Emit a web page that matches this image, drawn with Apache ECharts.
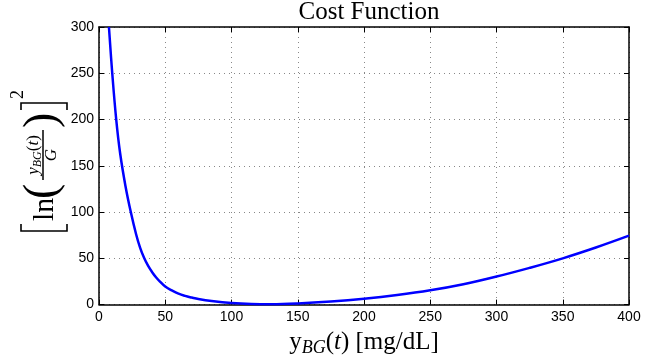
<!DOCTYPE html>
<html>
<head>
<meta charset="utf-8">
<script src="https://cdn.jsdelivr.net/npm/echarts@6/dist/echarts.min.js"></script>
<style>
  html, body { margin: 0; padding: 0; background: #fff; }
  #chart { width: 663px; height: 362px; }
</style>
</head>
<body>
<div id="chart"></div>
<script>
// values
var glucose = [7.5, 10, 13, 16, 20, 24, 28, 31, 34, 37, 40, 43, 46, 50, 55, 60, 65, 70, 75, 85, 100, 115, 130, 150, 175, 200, 225, 250, 275, 300, 325, 350, 375, 400];
var cost = [300, 250, 200, 163, 128, 100, 76, 61.5, 50.5, 42, 35.3, 29.6, 24.9, 19.5, 15.3, 11.8, 9.4, 7.6, 6, 3.8, 1.6, 0.6, 0.4, 1.2, 3.3, 6.3, 10.3, 15.4, 22, 30.3, 39.7, 50, 61.7, 74.5];
var xTicks = [0, 50, 100, 150, 200, 250, 300, 350, 400];
var yTicks = [0, 50, 100, 150, 200, 250, 300];

var serif = '"Liberation Serif", "DejaVu Serif", serif';
var sans = '"Liberation Sans", Arial, sans-serif';

var chart = echarts.init(document.getElementById('chart'), null, { renderer: 'canvas' });

var gridLine = { show: true, lineStyle: { color: '#888', width: 1, type: [1, 4] } };
var tickStyle = { show: true, inside: true, length: 5, lineStyle: { color: '#000', width: 1 } };
var frame = { show: true, onZero: false, lineStyle: { color: '#000', width: 1.5 } };

var option = {
  animation: false,
  backgroundColor: '#fff',
  title: {
    text: 'Cost Function',
    left: 364,
    textAlign: 'center',
    top: -5,
    textStyle: { fontFamily: serif, fontSize: 25, fontWeight: 'normal', color: '#000' }
  },
  grid: { left: 99, right: 34, top: 27, bottom: 53 },
  xAxis: [{
    type: 'value',
    position: 'bottom',
    min: xTicks[0], max: xTicks[xTicks.length - 1], interval: 50,
    axisLine: frame,
    axisTick: tickStyle,
    splitLine: gridLine,
    axisLabel: { color: '#000', fontFamily: sans, fontSize: 14, margin: 6 },
    name: '{r|y}{s|BG}{r|(}{i|t}{r|) [mg/dL]}',
    nameLocation: 'middle',
    nameGap: 15,
    nameTextStyle: {
      rich: {
        r: { fontFamily: serif, fontSize: 25, color: '#000' },
        i: { fontFamily: serif, fontSize: 25, fontStyle: 'italic', color: '#000' },
        s: { fontFamily: serif, fontSize: 18, fontStyle: 'italic', color: '#000', padding: [12, 0, 0, 0] }
      }
    }
  }, {
    type: 'value',
    position: 'top',
    min: xTicks[0], max: xTicks[xTicks.length - 1], interval: 50,
    axisLine: frame,
    axisTick: tickStyle,
    splitLine: { show: false },
    axisLabel: { show: false }
  }],
  yAxis: [{
    type: 'value',
    position: 'left',
    min: yTicks[0], max: yTicks[yTicks.length - 1], interval: 50,
    axisLine: frame,
    axisTick: tickStyle,
    splitLine: gridLine,
    axisLabel: { color: '#000', fontFamily: sans, fontSize: 14, margin: 5 }
  }, {
    type: 'value',
    position: 'right',
    min: yTicks[0], max: yTicks[yTicks.length - 1], interval: 50,
    axisLine: frame,
    axisTick: tickStyle,
    splitLine: { show: false },
    axisLabel: { show: false }
  }],
  graphic: [{
    // rotated y label: [ ln( yBG(t) / G ) ]^2
    type: 'group',
    x: 44, y: 161,
    rotation: Math.PI / 2,
    children: [
      { type: 'polyline', shape: { points: [[-63, -23], [-70, -23], [-70, 23], [-63, 23]] }, style: { stroke: '#000', lineWidth: 1.6, fill: null } },
      { type: 'text', style: { text: 'ln', x: -60, y: 1, font: '30px ' + serif, fill: '#000', align: 'left', verticalAlign: 'middle' } },
      { type: 'text', style: { text: '(', x: -38, y: -1, font: '46px ' + serif, fill: '#000', align: 'left', verticalAlign: 'middle' } },
      { type: 'text', style: {
          text: '{i|y}{s|BG}{n|(}{i|t}{n|)}', x: 6, y: -10, align: 'center', verticalAlign: 'middle',
          rich: {
            i: { fontFamily: serif, fontSize: 17, fontStyle: 'italic', fill: '#000' },
            n: { fontFamily: serif, fontSize: 17, fill: '#000' },
            s: { fontFamily: serif, fontSize: 12, fontStyle: 'italic', fill: '#000', padding: [8, 0, 0, 0] }
          }
      } },
      { type: 'line', shape: { x1: -19, y1: -1, x2: 31, y2: -1 }, style: { stroke: '#000', lineWidth: 1.5 } },
      { type: 'text', style: { text: 'G', x: 6, y: 8, font: 'italic 17px ' + serif, fill: '#000', align: 'center', verticalAlign: 'middle' } },
      { type: 'text', style: { text: ')', x: 33, y: -1, font: '46px ' + serif, fill: '#000', align: 'left', verticalAlign: 'middle' } },
      { type: 'polyline', shape: { points: [[51, -23], [58, -23], [58, 23], [51, 23]] }, style: { stroke: '#000', lineWidth: 1.6, fill: null } },
      { type: 'text', style: { text: '2', x: 62, y: -26, font: '18px ' + serif, fill: '#000', align: 'left', verticalAlign: 'middle' } }
    ]
  }],
  series: [{
    type: 'line',
    xAxisIndex: 0,
    yAxisIndex: 0,
    data: glucose.map(function (g, i) { return [g, cost[i]]; }),
    showSymbol: false,
    smooth: 0.4,
    clip: true,
    lineStyle: { color: '#0000ff', width: 2.5 }
  }]
};

chart.setOption(option);
</script>
</body>
</html>
